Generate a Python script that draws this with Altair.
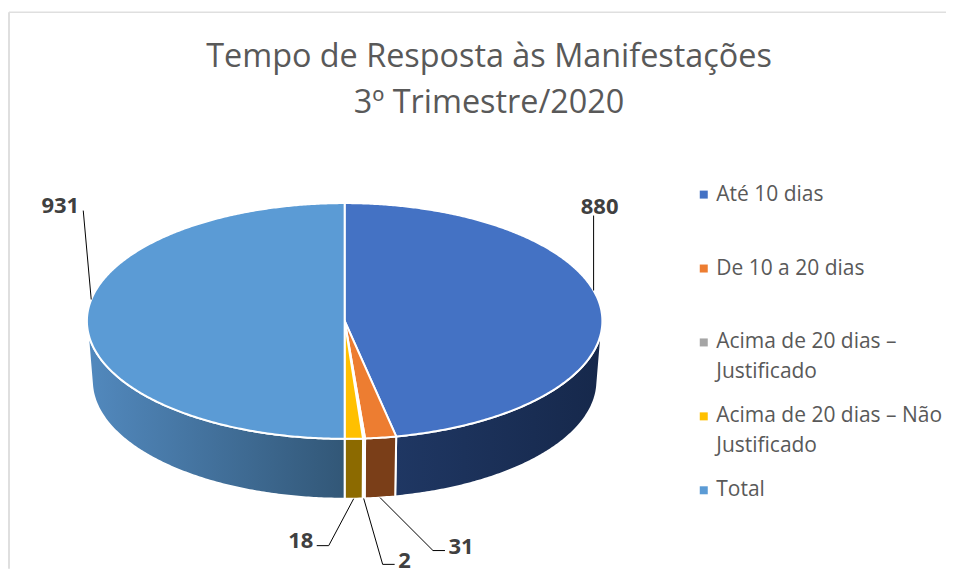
import math
import altair as alt
import pandas as pd

# ---- chart values
CATEGORIES = ["Até 10 dias", "De 10 a 20 dias", "Acima de 20 dias – Justificado",
              "Acima de 20 dias – Não Justificado", "Total"]
VALUES = [880, 31, 2, 18, 931]
TOP_COLORS = ["#4472C4", "#ED7D31", "#A5A5A5", "#FFC000", "#5B9BD5"]
TITLE_LINES = ["Tempo de Resposta às Manifestações", "3º Trimestre/2020"]

# ---- layout / style (pixels inside the plot area)
CX, CY, RX, RY = 337, 310, 258, 118
DEPTH, RX_LOW = 60, 253
FRONT_PERSPECTIVE = 0.18
WALL_START, WALL_END = 100, 260
WALL_FILLS = {
    0: alt.Gradient(gradient="linear", x1=0, x2=1, y1=0, y2=0,
                    stops=[alt.GradientStop(color="#1F3763", offset=0), alt.GradientStop(color="#16284B", offset=1)]),
    1: "#7A3E18",
    2: "#636363",
    3: "#8C6A00",
    4: alt.Gradient(gradient="linear", x1=0, x2=1, y1=0, y2=0,
                    stops=[alt.GradientStop(color="#5289BE", offset=0), alt.GradientStop(color="#325777", offset=1)]),
}
# leader: (slice index, angle shift, on lower rim?, elbow offset, end offset, label offset)
LEADERS = [
    (0, -2, False, (0, -75), (0, -75), (6, -9)),
    (1, 0, True, (53, 53), (65, 53), (16, -4)),
    (2, 0, True, (19, 66), (31, 66), (10, -3)),
    (3, 0, True, (-25, 47), (-37, 47), (-16, -5)),
    (4, 2.4, False, (-8, -89), (-8, -89), (-23, -5)),
]

total = sum(VALUES)
bounds = [0.0]
for v in VALUES:
    bounds.append(bounds[-1] + v / total * 360)


def warp(t):
    """Excel's perspective widens the slices nearest the viewer."""
    d = abs(180 - t)
    d2 = d * (1 + FRONT_PERSPECTIVE * (1 - d / 180))
    return 180 + (d2 if t > 180 else -d2)


def rim(t, cy=CY, rx=RX):
    a = math.radians(warp(t))
    return [CX + rx * math.sin(a), cy - RY * math.cos(a)]


def arc(a, b, cy=CY, rx=RX):
    n = max(2, int(abs(b - a) / 0.5) + 1)
    return [rim(a + (b - a) * i / (n - 1), cy, rx) for i in range(n)]


def feature(ring, **props):
    ring = ring + [ring[0]]
    return {"type": "Feature", "geometry": {"type": "Polygon", "coordinates": [ring]}, "properties": props}


PROJ = dict(type="identity", scale=1, translate=[0, 0])
layers = []

# side wall, one shape per visible slice
for i in range(5):
    a, b = max(bounds[i], WALL_START), min(bounds[i + 1], WALL_END)
    if a >= b:
        continue
    ring = arc(a, b) + arc(b, a, CY + DEPTH, RX_LOW)
    layers.append(
        alt.Chart(alt.InlineData(values=[feature(ring, category=CATEGORIES[i])], format=alt.DataFormat(type="json")))
        .mark_geoshape(fill=WALL_FILLS[i], stroke="white", strokeWidth=2, strokeJoin="round")
        .project(**PROJ)
    )

# top face
tops = [feature([[CX, CY]] + arc(bounds[i], bounds[i + 1]), category=CATEGORIES[i]) for i in range(5)]
layers.append(
    alt.Chart(alt.InlineData(values=tops, format=alt.DataFormat(type="json")))
    .mark_geoshape(stroke="white", strokeWidth=2, strokeJoin="round")
    .encode(
        fill=alt.Color(
            "properties.category:N",
            scale=alt.Scale(domain=CATEGORIES, range=TOP_COLORS),
            legend=alt.Legend(
                title=None, orient="none", legendX=686, legendY=173, direction="vertical", columns=1,
                symbolType="square", symbolSize=64, symbolStrokeWidth=0,
                labelFont="Open Sans", labelFontSize=21, labelColor="#595959", labelLimit=300,
                labelOffset=2, labelBaseline="middle", rowPadding=22,
                labelExpr="split(indexof(datum.label, ' – ') >= 0 ? replace(datum.label, ' Justificado', '|Justificado') : datum.label + '| ', '|')",
            ),
        )
    )
    .project(**PROJ)
)

# leader lines and value labels
line_rows, text_rows = [], []
for idx, shift, low, elbow, end, lab in LEADERS:
    mid = (bounds[idx] + bounds[idx + 1]) / 2 + shift
    sx, sy = rim(mid, CY + DEPTH, RX_LOW) if low else rim(mid)
    for k, (dx, dy) in enumerate([(0, 0), elbow, end]):
        line_rows.append({"id": idx, "k": k, "px": sx + dx, "py": sy + dy})
    text_rows.append({"v": str(VALUES[idx]), "px": sx + end[0] + lab[0], "py": sy + end[1] + lab[1]})

layers.append(
    alt.Chart(pd.DataFrame(line_rows)).mark_line(color="black", strokeWidth=1).encode(
        x=alt.X("px:Q", scale=None), y=alt.Y("py:Q", scale=None), detail="id:N", order="k:Q")
)
layers.append(
    alt.Chart(pd.DataFrame(text_rows)).mark_text(
        font="Open Sans", fontSize=22, fontWeight="bold", color="#404040", align="center", baseline="middle"
    ).encode(x=alt.X("px:Q", scale=None), y=alt.Y("py:Q", scale=None), text="v:N")
)

# chart-area border: only its top and left edges are in the picture
frame_top = alt.Chart(pd.DataFrame({"a": [0]})).mark_rule(color="#DFDFDF", strokeWidth=1.5).encode(
    y=alt.value(1), x=alt.value(1), x2=alt.value(939))
frame_left = alt.Chart(pd.DataFrame({"a": [0]})).mark_rule(color="#DFDFDF", strokeWidth=2).encode(
    x=alt.value(1), y=alt.value(1), y2=alt.value(558))
layers += [frame_top, frame_left]

chart = (
    alt.layer(*layers)
    .properties(
        width=939, height=558, padding={"left": 0, "top": 3, "right": 0, "bottom": 0},
        title=alt.TitleParams(text=TITLE_LINES, font="Open Sans", fontSize=32.4, fontWeight="normal", color="#595959",
                              anchor="middle", frame="group", dx=12, offset=-108, lineHeight=46),
    )
    .configure(background="white", style={"guide-label": {"lineHeight": 30}})
    .configure_view(strokeWidth=0)
)
chart.save("out.html", embed_options={"renderer": "svg", "actions": False})
